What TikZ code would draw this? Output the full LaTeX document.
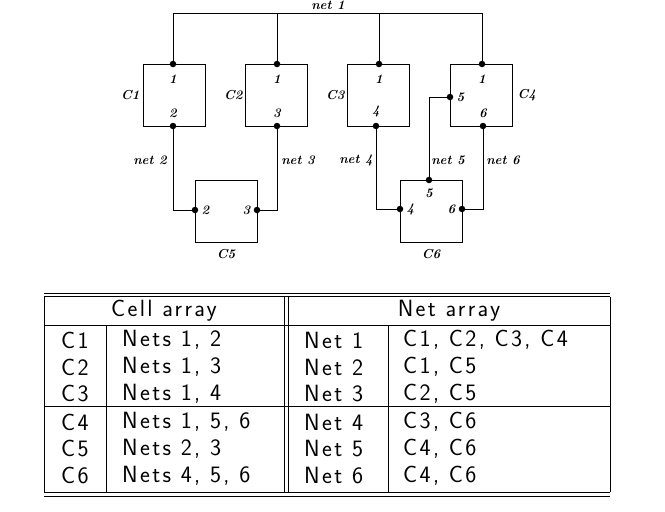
\documentclass[tikz,border=0pt]{standalone}
\usepackage{fontspec}
\usepackage{tikz}
\usetikzlibrary{positioning}
\newfontfamily\tabfont{Latin Modern Sans}[LetterSpace=10]

\tikzset{
  cell/.style={draw, line width=.7pt, minimum width=62pt, minimum height=62pt, inner sep=0pt},
  pin/.style={circle, fill, inner sep=0pt, minimum size=6.5pt},
  lab/.style={font=\fontsize{13}{13}\selectfont\itshape\bfseries, inner sep=1pt},
  wire/.style={line width=.7pt},
  tab/.style={font=\fontsize{23.5}{23.5}\tabfont, inner sep=0pt, anchor=west},
  rule/.style={line width=.7pt}
}

\begin{document}
\begin{tikzpicture}[x=1pt,y=-1pt]
\useasboundingbox (0,0) rectangle (665,512);
% cells
\node[cell] (C1) at (174,95) {};
\node[cell] (C2) at (276,95) {};
\node[cell] (C3) at (378,95) {};
\node[cell] (C4) at (481,95) {};
\node[cell] (C5) at (226,211) {};
\node[cell] (C6) at (431,211) {};
\node[lab,left=2pt of C1] {C1};
\node[lab,left=1pt of C2] {C2};
\node[lab,left=1pt of C3] {C3};
\node[lab,right=4pt of C4] {C4};
\node[lab,below=6pt of C5] {C5};
\node[lab,below=6pt of C6] {C6};
% pins
\node[pin] (p11) at (173,64) {}; \node[lab,below=6pt of p11] {1};
\node[pin] (p21) at (277,64) {}; \node[lab,below=6pt of p21] {1};
\node[pin] (p31) at (379,64) {}; \node[lab,below=6pt of p31] {1};
\node[pin] (p41) at (482,64) {}; \node[lab,below=6pt of p41] {1};
\node[pin] (p12) at (173,126) {}; \node[lab,above=4pt of p12] {2};
\node[pin] (p23) at (277,126) {}; \node[lab,above=4pt of p23] {3};
\node[pin] (p34) at (376,126) {}; \node[lab,above=4pt of p34] {4};
\node[pin] (p46) at (483,126) {}; \node[lab,above=4pt of p46] {6};
\node[pin] (p45) at (450,97) {}; \node[lab,right=2pt of p45] {5};
\node[pin] (p52) at (195,210) {}; \node[lab,right=2pt of p52] {2};
\node[pin] (p53) at (257,210) {}; \node[lab,left=2pt of p53] {3};
\node[pin] (p64) at (400,209) {}; \node[lab,right=2pt of p64] {4};
\node[pin] (p66) at (462,209) {}; \node[lab,left=2pt of p66] {6};
\node[pin] (p65) at (429,180) {}; \node[lab,below=4pt of p65] {5};
% nets
\coordinate (t1) at (173,13);
\coordinate (t4) at (482,13);
\draw[wire] (p11) -- (t1) -- (t4) -- (p41);
\draw[wire] (p21) -- (p21 |- t1);
\draw[wire] (p31) -- (p31 |- t1);
\node[lab] (n1) at (328,5) {net 1};
\draw[wire] (p12) |- (p52);
\draw[wire] (p23) |- (p53);
\draw[wire] (p34) |- (p64);
\draw[wire] (p46) |- (p66);
\draw[wire] (p45) -| (p65);
\node[lab] (n2) at (150,160) {net 2};
\node[lab] (n3) at (298,160) {net 3};
\node[lab] (n4) at (356,160) {net 4};
\node[lab] (n5) at (448,160) {net 5};
\node[lab] (n6) at (503,160) {net 6};
% table
\draw[rule] (44,293) -- (610,293);
\draw[rule] (44,296.5) -- (610,296.5);
\draw[rule] (44,325) -- (610,325);
\draw[rule] (44,406) -- (610,406);
\draw[rule] (44,492) -- (610,492);
\draw[rule] (44,496) -- (610,496);
\draw[rule] (44,296.5) -- (44,492);
\draw[rule] (610,296.5) -- (610,492);
\draw[rule] (284.7,296.5) -- (284.7,492);
\draw[rule] (288.5,296.5) -- (288.5,492);
\draw[rule] (106.6,325) -- (106.6,492);
\draw[rule] (388,325) -- (388,492);
\node[tab,anchor=center] (hc) at (164,311) {Cell array};
\node[tab,anchor=center] (hn) at (449,311) {Net array};
\foreach \y/\c/\cn/\n/\nc [count=\i] in {
  340/C1/{Nets 1, 2}/Net 1/{C1, C2, C3, C4},
  367/C2/{Nets 1, 3}/Net 2/{C1, C5},
  394/C3/{Nets 1, 4}/Net 3/{C2, C5},
  422/C4/{Nets 1, 5, 6}/Net 4/{C3, C6},
  449/C5/{Nets 2, 3}/Net 5/{C4, C6},
  476/C6/{Nets 4, 5, 6}/Net 6/{C4, C6}} {
  \node[tab,anchor=center] (c\i) at (75,\y) {\c};
  \node[tab] (cn\i) at (122,\y) {\cn};
  \node[tab] (n\i) at (304,\y) {\n};
  \node[tab] (nc\i) at (403,\y) {\nc};
}
\end{tikzpicture}
\end{document}
